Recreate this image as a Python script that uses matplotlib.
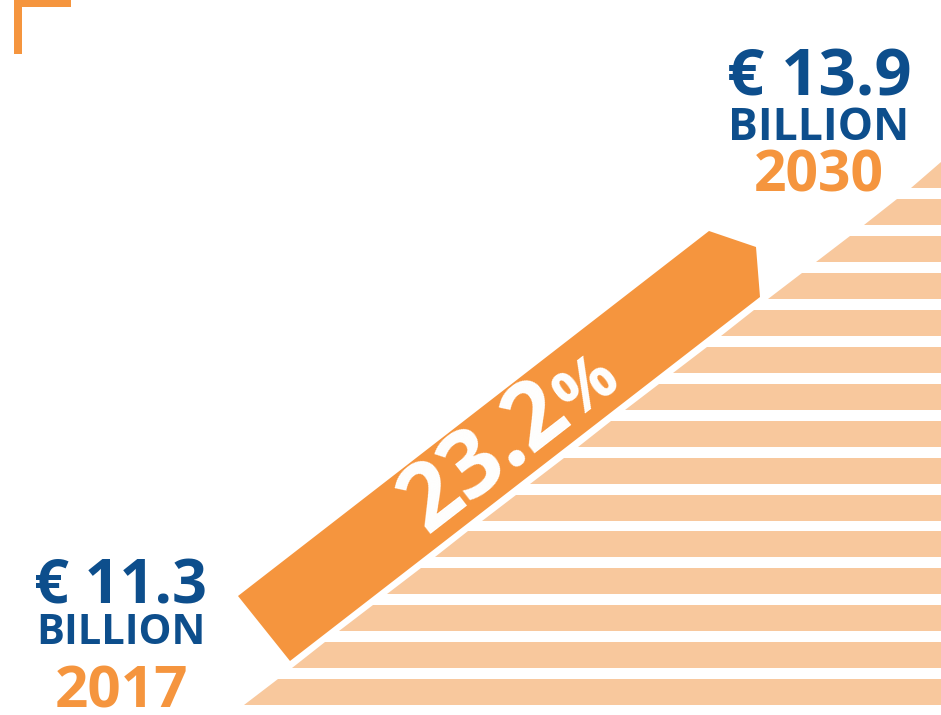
import numpy as np
import matplotlib.pyplot as plt
from matplotlib.patches import Polygon

# values shown on the graphic
years = [2017, 2030]
values_bn = [11.3, 13.9]
growth_pct = 23.2

blue = '#0d4e8c'
orange = '#f5953e'
light = '#f8c89d'

W, H = 941, 715
fig = plt.figure(figsize=(W / 100, H / 100), dpi=100)
ax = fig.add_axes([0, 0, 1, 1])
ax.set_xlim(0, W)
ax.set_ylim(H, 0)
ax.axis('off')

# staircase of light stripes, left edge along the diagonal
slope = 1.292  # dx per dy of the diagonal
def diag_x(y):
    return 244 + (705 - y) * slope

n_stripes = 15
pitch = 36.9
stripe_h = 26
for i in range(n_stripes):
    top = 679 - i * pitch
    bot = top + stripe_h
    xt = min(diag_x(top), W)
    xb = min(diag_x(bot), W)
    ax.add_patch(Polygon([(xt, top), (W, top), (W, bot), (xb, bot)],
                         closed=True, color=light, lw=0))

# orange arrow band
band = [(238, 596), (709, 231), (756, 247), (760, 297), (290, 661)]
ax.add_patch(Polygon(band, closed=True, color=orange, lw=0))

# corner bracket
ax.add_patch(Polygon([(14, 0), (71, 0), (71, 7), (22, 7), (22, 54), (14, 54)],
                     closed=True, color=orange, lw=0))

fnt = 'Open Sans'
ang = np.degrees(np.arctan(1 / slope))
d = np.array([np.cos(np.radians(ang)), -np.sin(np.radians(ang))])
start = np.array([427, 534])

# measure the number's width, then put the smaller % after it
num = f'{growth_pct:.1f}'
tmp = ax.text(0, 0, num, fontsize=67, fontweight='bold', family=fnt)
fig.canvas.draw()
wpx = tmp.get_window_extent().width
tmp.remove()

ax.text(start[0], start[1], num, rotation=ang, rotation_mode='anchor',
        ha='left', va='baseline', color='white', fontsize=67,
        fontweight='bold', family=fnt)
p = start + d * (wpx + 1)
ax.text(p[0], p[1], '%', rotation=ang, rotation_mode='anchor',
        ha='left', va='baseline', color='white', fontsize=48,
        fontweight='bold', family=fnt)

# labels
def label(x, ys, val, yr, s1, s2, s3):
    ax.text(x, ys[0], f'€ {val}', ha='center', va='baseline', color=blue,
            fontsize=s1, fontweight='bold', family=fnt)
    ax.text(x, ys[1], 'BILLION', ha='center', va='baseline', color=blue,
            fontsize=s2, fontweight='bold', family=fnt)
    ax.text(x, ys[2], str(yr), ha='center', va='baseline', color=orange,
            fontsize=s3, fontweight='bold', family=fnt)

label(121, (603, 644, 708), values_bn[0], years[0], 44, 30, 42)
label(819, (95, 140, 192), values_bn[1], years[1], 47, 32, 41)

fig.savefig('out.png', dpi=100)
